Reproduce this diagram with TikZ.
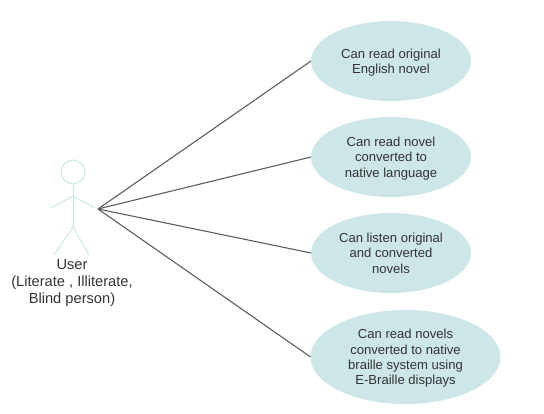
\documentclass[tikz,border=0pt]{standalone}
\usepackage{fontspec}
\setmainfont{Liberation Sans}
\usepackage{xcolor}
\usetikzlibrary{positioning, shapes.geometric}
\definecolor{usecasefill}{HTML}{CDE6E8}
\definecolor{linkgray}{HTML}{5A5A5A}
\definecolor{labelgray}{HTML}{333333}

\begin{document}
\begin{tikzpicture}[
      x=0.75pt, y=-0.75pt,
      node distance=12pt,
      usecase/.style={ellipse, fill=usecasefill, inner sep=0pt, outer sep=0pt, minimum width=120pt, minimum height=60pt, align=center, text=labelgray, font=\fontsize{9.8}{11.5}\selectfont, text depth=-1pt},
      actorline/.style={draw=usecasefill, line width=0.75pt},
      link/.style={draw=linkgray, line width=0.8pt}
    ]
      \useasboundingbox (0,0) rectangle (544,414);

      \node[usecase] (english) at (391,61) {Can read original\\English novel};
      \node[usecase, below=of english] (native) {Can read novel\\converted to\\native language};
      \node[usecase, below=of native] (listen) {Can listen original\\and converted\\novels};
      \node[usecase, below=12.75pt of listen, xshift=10.9pt, minimum width=142.5pt, minimum height=70.5pt] (braille) {Can read novels\\converted to native\\braille system using\\E-Braille displays};

      \node[circle, actorline, fill=white, inner sep=0pt, outer sep=0pt, minimum size=18pt] (head) at (73,172) {};
      \coordinate (shoulder) at (73,196);
      \coordinate (hip) at (73,227);
      \coordinate (handl) at (51,208);
      \coordinate (handr) at (95,208);
      \coordinate (footl) at (54,255);
      \coordinate (footr) at (89,255);
      \coordinate (hub) at (98,209);
      \node[align=center, text=labelgray, font=\fontsize{11}{12.4}\selectfont, inner sep=0pt] (user) at (72,283) {User\\(Literate , Illiterate,\\Blind person)};

      \draw[actorline] (head.south) -- (hip);
      \draw[actorline] (handl) -- (shoulder) -- (handr);
      \draw[actorline] (footl) -- (hip) -- (footr);

      \draw[link] (hub) -- (english.west);
      \draw[link] (hub) -- (native.west);
      \draw[link] (hub) -- (listen.west);
      \draw[link] (hub) -- (braille.west);
    \end{tikzpicture}
\end{document}
